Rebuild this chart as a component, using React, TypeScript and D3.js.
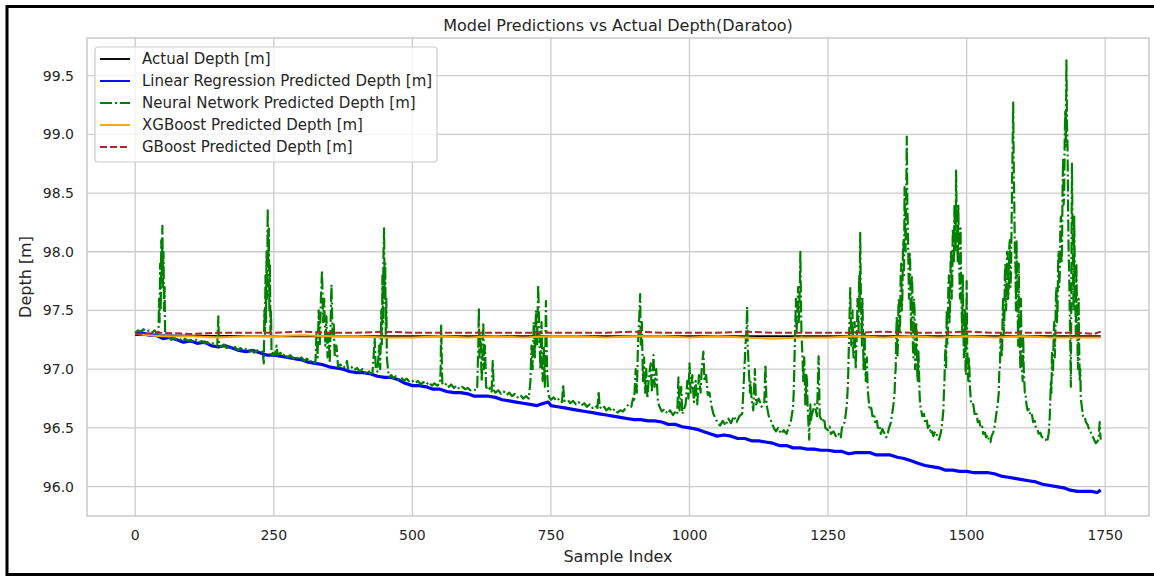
import React from "react";
import * as d3 from "d3";

const W = 1154;
const H = 577;

const chartTitle = "Model Predictions vs Actual Depth(Daratoo)";
const xLabel = "Sample Index";
const yLabel = "Depth [m]";
const xTicks = [0, 250, 500, 750, 1000, 1250, 1500, 1750];
const yTicks = [96.0, 96.5, 97.0, 97.5, 98.0, 98.5, 99.0, 99.5];
const seriesNames = [
  "Actual Depth [m]",
  "Linear Regression Predicted Depth [m]",
  "Neural Network Predicted Depth [m]",
  "XGBoost Predicted Depth [m]",
  "GBoost Predicted Depth [m]",
];

const actualPoints: [number, number][] = [
  [0, 97.29], [250, 97.28], [500, 97.28], [750, 97.28], [1000, 97.28], [1250, 97.28], [1500, 97.28], [1742, 97.28],
];

const lrPoints: [number, number][] = [
  [0, 97.3], [12, 97.31], [25, 97.29], [37, 97.29], [50, 97.26], [62, 97.27], [75, 97.25], [87, 97.23], [100, 97.24],
  [112, 97.22], [125, 97.23], [137, 97.2], [150, 97.19], [162, 97.2], [175, 97.18], [187, 97.16], [200, 97.15],
  [212, 97.16], [225, 97.14], [237, 97.12], [250, 97.12], [262, 97.11], [275, 97.1], [287, 97.09], [300, 97.08],
  [312, 97.06], [325, 97.05], [337, 97.04], [350, 97.02], [362, 97.01], [375, 97.0], [387, 96.98], [400, 96.97],
  [412, 96.97], [425, 96.96], [437, 96.94], [450, 96.93], [462, 96.93], [475, 96.91], [487, 96.88], [500, 96.86],
  [512, 96.86], [525, 96.85], [537, 96.83], [550, 96.83], [562, 96.81], [575, 96.8], [587, 96.8], [600, 96.79],
  [612, 96.77], [625, 96.77], [637, 96.77], [650, 96.76], [662, 96.74], [675, 96.73], [687, 96.72], [700, 96.71],
  [712, 96.7], [725, 96.69], [737, 96.71], [745, 96.72], [750, 96.69], [762, 96.68], [775, 96.67], [787, 96.66],
  [800, 96.65], [812, 96.64], [825, 96.63], [837, 96.62], [850, 96.61], [862, 96.6], [875, 96.59], [887, 96.58],
  [900, 96.57], [912, 96.57], [925, 96.56], [937, 96.56], [950, 96.55], [962, 96.53], [975, 96.53], [987, 96.51],
  [1000, 96.5], [1012, 96.49], [1025, 96.47], [1037, 96.45], [1050, 96.43], [1062, 96.44], [1075, 96.43], [1087, 96.41],
  [1100, 96.41], [1112, 96.39], [1125, 96.39], [1137, 96.38], [1150, 96.37], [1162, 96.35], [1175, 96.35], [1187, 96.33],
  [1200, 96.33], [1212, 96.32], [1225, 96.32], [1237, 96.31], [1250, 96.31], [1262, 96.3], [1275, 96.3], [1287, 96.28],
  [1300, 96.29], [1312, 96.29], [1325, 96.29], [1337, 96.27], [1350, 96.27], [1362, 96.27], [1375, 96.25], [1387, 96.24],
  [1400, 96.22], [1412, 96.2], [1425, 96.18], [1437, 96.17], [1450, 96.16], [1462, 96.14], [1475, 96.14], [1487, 96.13],
  [1500, 96.13], [1512, 96.12], [1525, 96.12], [1537, 96.12], [1550, 96.11], [1562, 96.09], [1575, 96.08], [1587, 96.07],
  [1600, 96.06], [1612, 96.05], [1625, 96.04], [1637, 96.02], [1650, 96.01], [1662, 96.0], [1675, 95.99], [1687, 95.97],
  [1700, 95.96], [1712, 95.96], [1725, 95.96], [1735, 95.95], [1742, 95.97],
];

const nnPoints: [number, number][] = [
  [0, 97.31], [5, 97.33], [10, 97.32], [15, 97.34], [20, 97.32], [25, 97.33], [30, 97.31], [35, 97.33], [40, 97.3],
  [42, 97.32], [43, 97.6], [44, 97.4], [45, 97.9], [46, 97.5], [47, 98.1], [48, 97.8], [49, 98.22], [50, 97.7],
  [51, 98.0], [52, 97.5], [53, 97.7], [54, 97.3], [56, 97.27], [60, 97.28], [65, 97.25], [70, 97.27], [75, 97.25],
  [80, 97.26], [85, 97.24], [90, 97.26], [95, 97.24], [100, 97.25], [105, 97.23], [110, 97.25], [115, 97.23],
  [120, 97.24], [125, 97.22], [130, 97.23], [135, 97.21], [140, 97.22], [145, 97.21], [148, 97.2], [150, 97.45],
  [151, 97.21], [155, 97.19], [160, 97.21], [165, 97.18], [170, 97.2], [175, 97.17], [180, 97.19], [185, 97.16],
  [190, 97.18], [195, 97.16], [200, 97.17], [205, 97.15], [210, 97.16], [215, 97.14], [220, 97.16], [225, 97.14],
  [230, 97.15], [232, 97.05], [233, 97.5], [234, 97.3], [235, 97.8], [236, 97.4], [237, 98.0], [238, 97.6],
  [239, 98.37], [240, 97.9], [241, 98.2], [242, 97.5], [243, 97.9], [244, 97.3], [245, 97.5], [246, 97.1],
  [248, 97.14], [252, 97.12], [255, 97.2], [257, 97.12], [262, 97.14], [265, 97.11], [270, 97.13], [275, 97.1],
  [280, 97.12], [285, 97.09], [290, 97.11], [295, 97.08], [300, 97.1], [305, 97.07], [310, 97.09], [315, 97.06],
  [320, 97.08], [325, 97.05], [327, 97.3], [329, 97.1], [331, 97.5], [333, 97.2], [335, 97.6], [337, 97.84],
  [339, 97.4], [341, 97.6], [343, 97.2], [345, 97.45], [347, 97.1], [349, 97.3], [351, 97.05], [353, 97.5],
  [354, 97.72], [356, 97.3], [358, 97.4], [360, 97.1], [363, 97.2], [366, 97.02], [370, 97.04], [375, 97.01],
  [380, 97.03], [382, 97.07], [384, 97.0], [390, 97.02], [395, 96.99], [400, 97.01], [405, 96.98], [410, 97.0],
  [415, 96.97], [420, 96.99], [425, 96.96], [428, 96.97], [430, 97.1], [432, 97.27], [434, 97.0], [437, 96.98],
  [440, 97.2], [442, 97.0], [444, 97.5], [445, 97.2], [446, 97.8], [447, 97.4], [448, 98.0], [449, 98.2],
  [450, 97.6], [451, 97.9], [452, 97.3], [453, 97.6], [454, 97.1], [456, 97.0], [458, 96.93], [462, 96.95],
  [466, 96.92], [470, 96.94], [475, 96.91], [480, 96.93], [485, 96.9], [490, 96.92], [495, 96.89], [500, 96.9],
  [505, 96.88], [510, 96.9], [515, 96.87], [520, 96.89], [525, 96.87], [530, 96.89], [535, 96.86], [540, 96.88],
  [545, 96.86], [550, 96.88], [551, 97.0], [552, 97.38], [553, 97.1], [554, 96.88], [558, 96.86], [562, 96.88],
  [566, 96.85], [570, 96.87], [575, 96.84], [580, 96.86], [585, 96.83], [590, 96.85], [595, 96.83], [600, 96.84],
  [605, 96.82], [610, 96.83], [615, 96.82], [617, 96.85], [619, 97.2], [620, 97.52], [621, 97.1], [623, 97.3],
  [625, 96.9], [627, 97.2], [628, 97.4], [629, 97.0], [631, 97.2], [633, 96.85], [637, 96.82], [640, 96.84],
  [643, 96.81], [645, 97.07], [647, 96.82], [650, 96.8], [655, 96.82], [660, 96.79], [665, 96.81], [670, 96.78],
  [675, 96.8], [680, 96.77], [685, 96.79], [690, 96.76], [695, 96.78], [700, 96.75], [705, 96.77], [710, 96.75],
  [713, 96.9], [715, 97.2], [717, 97.0], [719, 97.4], [721, 97.1], [723, 97.5], [725, 97.2], [727, 97.72],
  [729, 97.3], [731, 97.0], [733, 97.4], [735, 96.9], [737, 97.2], [739, 96.85], [741, 97.58], [743, 97.0],
  [745, 96.8], [747, 96.76], [750, 96.74], [755, 96.76], [760, 96.73], [765, 96.75], [770, 96.72], [772, 96.87],
  [774, 96.73], [780, 96.74], [785, 96.71], [790, 96.73], [795, 96.7], [800, 96.72], [805, 96.69], [810, 96.71],
  [815, 96.68], [820, 96.7], [825, 96.67], [830, 96.69], [834, 96.67], [836, 96.81], [838, 96.68], [842, 96.66],
  [846, 96.68], [850, 96.65], [855, 96.67], [860, 96.64], [865, 96.66], [870, 96.63], [875, 96.65], [880, 96.64],
  [885, 96.67], [890, 96.7], [895, 96.68], [898, 96.75], [900, 96.72], [903, 97.0], [905, 96.8], [907, 97.2],
  [909, 97.4], [911, 97.64], [912, 97.2], [914, 97.4], [916, 96.9], [918, 97.1], [920, 96.8], [922, 97.0],
  [924, 96.75], [927, 96.95], [930, 97.05], [932, 96.8], [935, 97.12], [937, 96.85], [940, 97.0], [943, 96.72],
  [946, 96.68], [950, 96.64], [955, 96.66], [960, 96.62], [965, 96.65], [970, 96.61], [975, 96.64], [978, 96.62],
  [980, 96.93], [982, 96.65], [985, 96.85], [987, 96.62], [990, 96.66], [993, 96.7], [996, 96.9], [998, 96.75],
  [1000, 97.05], [1002, 96.8], [1005, 96.95], [1008, 96.72], [1011, 96.9], [1014, 96.7], [1017, 96.95], [1020, 96.8],
  [1022, 97.0], [1025, 97.15], [1027, 96.9], [1030, 96.95], [1033, 96.78], [1036, 96.8], [1040, 96.68], [1043, 96.62],
  [1047, 96.58], [1050, 96.55], [1055, 96.52], [1060, 96.56], [1065, 96.52], [1070, 96.58], [1075, 96.54], [1080, 96.6],
  [1085, 96.55], [1090, 96.6], [1095, 96.62], [1097, 96.8], [1099, 97.0], [1101, 97.2], [1103, 97.35], [1104, 97.53],
  [1105, 97.2], [1107, 97.0], [1109, 96.8], [1110, 96.9], [1112, 96.75], [1115, 96.65], [1118, 97.0], [1120, 96.7],
  [1125, 96.75], [1130, 96.68], [1135, 96.72], [1137, 97.04], [1139, 96.7], [1143, 96.6], [1148, 96.55], [1152, 96.5],
  [1156, 96.47], [1160, 96.5], [1165, 96.45], [1170, 96.48], [1175, 96.45], [1180, 96.52], [1183, 96.56],
  [1186, 96.65], [1187, 96.7], [1188, 96.8], [1189, 97.0], [1190, 97.2], [1191, 97.4], [1192, 97.6], [1193, 97.3],
  [1194, 97.4], [1195, 97.55], [1196, 97.7], [1197, 97.4], [1198, 97.5], [1199, 97.7], [1200, 98.0], [1201, 97.6],
  [1202, 97.3], [1203, 97.2], [1204, 97.1], [1205, 96.9], [1206, 97.0], [1207, 97.1], [1208, 96.9], [1209, 96.7],
  [1210, 96.75], [1211, 96.95], [1212, 96.9], [1213, 96.7], [1214, 96.6], [1215, 96.5], [1216, 96.4], [1217, 96.6],
  [1218, 96.7], [1219, 96.55], [1220, 96.6],
  [1223, 96.65], [1226, 96.7], [1230, 96.6], [1233, 97.11], [1235, 96.6], [1240, 96.55], [1243, 96.58], [1245, 96.5],
  [1250, 96.48], [1253, 96.51], [1255, 96.45], [1260, 96.47], [1263, 96.44], [1265, 96.42], [1270, 96.45],
  [1273, 96.42], [1275, 96.5], [1280, 96.55],
  [1284, 96.7], [1285, 96.8], [1286, 96.9], [1287, 97.1], [1288, 97.3], [1289, 97.5], [1290, 97.69], [1291, 97.4],
  [1292, 97.2], [1293, 97.35], [1294, 97.5], [1295, 97.2], [1296, 97.1], [1297, 97.3], [1298, 97.4], [1299, 97.15],
  [1300, 97.0], [1301, 97.2], [1302, 97.3], [1303, 97.6], [1304, 97.5], [1305, 97.3], [1306, 97.8], [1307, 97.5],
  [1308, 98.16], [1309, 97.7], [1310, 97.4], [1311, 97.2], [1312, 97.6], [1313, 97.3], [1314, 97.0], [1315, 97.2],
  [1316, 97.3], [1317, 97.0], [1318, 96.9], [1319, 97.05], [1320, 97.1], [1321, 96.9], [1322, 96.8],
  [1325, 96.65], [1328, 96.67], [1330, 96.6], [1333, 96.62], [1335, 96.55], [1338, 96.56], [1340, 96.5],
  [1343, 96.52], [1345, 96.45], [1348, 96.49], [1350, 96.47], [1353, 96.44], [1355, 96.42], [1358, 96.46],
  [1360, 96.5], [1363, 96.54], [1365, 96.6], [1368, 96.7],
  [1370, 96.8], [1371, 96.95], [1372, 97.0], [1373, 97.3], [1374, 97.45], [1375, 97.1], [1376, 97.2], [1377, 97.55],
  [1378, 97.6], [1379, 97.3], [1380, 97.4], [1381, 97.8], [1382, 97.9], [1383, 97.5], [1384, 97.6], [1385, 98.0],
  [1386, 98.1], [1387, 97.8], [1388, 98.55], [1389, 98.2], [1390, 98.0], [1391, 98.5], [1392, 98.98], [1393, 98.4],
  [1394, 98.2], [1395, 97.9], [1396, 97.6], [1397, 98.0], [1398, 97.95], [1399, 97.5], [1400, 97.3], [1401, 97.8],
  [1402, 97.7], [1403, 97.2], [1404, 97.1], [1405, 97.6], [1406, 97.5], [1407, 97.0], [1408, 97.0], [1409, 97.4],
  [1410, 97.3], [1411, 96.95], [1412, 96.9], [1413, 97.15], [1414, 97.0], [1415, 96.8], [1416, 96.7],
  [1420, 96.6], [1423, 96.62], [1425, 96.55], [1428, 96.57], [1430, 96.5], [1433, 96.52], [1435, 96.45],
  [1438, 96.47], [1440, 96.43], [1443, 96.47], [1445, 96.45], [1448, 96.42], [1450, 96.4], [1453, 96.45],
  [1455, 96.5], [1458, 96.65], [1459, 96.8], [1460, 96.9], [1461, 97.1], [1462, 97.2], [1463, 97.0], [1464, 97.5],
  [1465, 97.2], [1466, 97.3], [1467, 97.7], [1468, 97.8], [1469, 97.4], [1470, 97.5], [1471, 97.9], [1472, 98.0],
  [1473, 97.6], [1474, 97.7], [1475, 98.2], [1476, 98.1], [1477, 97.9], [1478, 98.4], [1479, 98.1], [1480, 98.0],
  [1481, 98.69], [1482, 98.3], [1483, 98.1], [1484, 97.9], [1485, 98.4], [1486, 98.0], [1487, 97.8], [1488, 97.6],
  [1489, 98.2], [1490, 97.7], [1491, 97.5], [1492, 97.3], [1493, 97.8], [1494, 97.4], [1495, 97.1], [1496, 97.3],
  [1497, 97.5], [1498, 97.0], [1499, 96.95], [1500, 97.75], [1501, 97.2], [1502, 97.0], [1503, 96.9], [1504, 97.1],
  [1505, 97.0], [1506, 96.85], [1508, 96.7],
  [1512, 96.7], [1515, 96.6], [1518, 96.62], [1520, 96.55], [1523, 96.56], [1525, 96.5], [1528, 96.51],
  [1530, 96.45], [1533, 96.46], [1535, 96.42], [1538, 96.44], [1540, 96.4], [1543, 96.38], [1545, 96.43],
  [1548, 96.46], [1550, 96.5], [1553, 96.6],
  [1556, 96.7], [1557, 96.75], [1558, 96.8], [1559, 97.0], [1560, 97.0], [1561, 97.25], [1562, 97.3], [1563, 97.1],
  [1564, 97.15], [1565, 97.5], [1566, 97.6], [1567, 97.3], [1568, 97.4], [1569, 97.8], [1570, 97.9], [1571, 97.5],
  [1572, 97.6], [1573, 98.0], [1574, 98.0], [1575, 97.6], [1576, 97.7], [1577, 98.05], [1578, 98.1], [1579, 97.7],
  [1580, 97.8], [1581, 98.2], [1582, 98.6], [1583, 98.9], [1584, 99.27], [1585, 98.7], [1586, 98.4], [1587, 98.0],
  [1588, 97.9], [1589, 97.5], [1590, 98.1], [1591, 97.7], [1592, 97.5], [1593, 97.2], [1594, 97.9], [1595, 97.4],
  [1596, 97.2], [1597, 97.0], [1598, 97.6], [1599, 97.1], [1600, 97.0], [1601, 96.9], [1602, 97.3], [1603, 97.0],
  [1604, 96.9], [1605, 96.8], [1606, 96.8], [1608, 96.7],
  [1610, 96.65], [1613, 96.66], [1615, 96.6], [1618, 96.61], [1620, 96.55], [1623, 96.56], [1625, 96.5],
  [1628, 96.48], [1630, 96.45], [1633, 96.46], [1635, 96.43], [1638, 96.41], [1640, 96.4], [1643, 96.4],
  [1645, 96.38], [1648, 96.45],
  [1650, 96.6], [1651, 96.75], [1652, 96.9], [1653, 96.8], [1654, 97.15], [1655, 96.95], [1656, 97.0], [1657, 97.3],
  [1658, 97.4], [1659, 97.1], [1660, 97.3], [1661, 97.6], [1662, 97.7], [1663, 97.4], [1664, 97.5], [1665, 97.9],
  [1666, 98.0], [1667, 97.7], [1668, 97.8], [1669, 98.2], [1670, 98.3], [1671, 97.9], [1672, 98.0], [1673, 98.5],
  [1674, 98.8], [1675, 98.4], [1676, 98.5], [1677, 99.0], [1678, 99.2], [1679, 98.9], [1680, 99.63], [1681, 99.1],
  [1682, 98.9], [1683, 98.4], [1684, 98.0], [1685, 97.8], [1686, 97.5], [1687, 97.2], [1688, 96.85], [1689, 97.8],
  [1690, 98.75], [1691, 98.2], [1692, 97.8], [1693, 97.5], [1694, 98.3], [1695, 97.9], [1696, 97.6], [1697, 97.3],
  [1698, 97.9], [1699, 97.5], [1700, 97.2], [1701, 97.0], [1702, 97.6], [1703, 97.2], [1704, 96.9], [1705, 97.0],
  [1706, 96.75],
  [1710, 96.6], [1713, 96.6], [1715, 96.55], [1718, 96.53], [1720, 96.5], [1723, 96.48], [1725, 96.45],
  [1728, 96.42], [1730, 96.4], [1733, 96.37], [1735, 96.38], [1738, 96.4], [1740, 96.55], [1741, 96.45],
  [1742, 96.4],
];

const xgbPoints: [number, number][] = [
  [0, 97.3], [25, 97.29], [50, 97.28], [100, 97.28], [150, 97.27], [200, 97.28], [250, 97.28], [300, 97.29],
  [350, 97.28], [400, 97.28], [450, 97.27], [500, 97.27], [550, 97.28], [600, 97.27], [650, 97.28], [700, 97.27],
  [750, 97.28], [800, 97.28], [850, 97.27], [900, 97.28], [950, 97.28], [1000, 97.27], [1050, 97.28], [1100, 97.27],
  [1150, 97.26], [1200, 97.27], [1250, 97.27], [1300, 97.28], [1350, 97.27], [1400, 97.28], [1450, 97.27], [1500, 97.28],
  [1550, 97.27], [1600, 97.28], [1650, 97.27], [1700, 97.27], [1742, 97.27],
];

const gbPoints: [number, number][] = [
  [0, 97.3], [50, 97.31], [100, 97.3], [150, 97.31], [200, 97.31], [250, 97.31], [300, 97.32], [350, 97.31],
  [400, 97.31], [450, 97.32], [500, 97.31], [550, 97.31], [600, 97.31], [650, 97.31], [700, 97.31], [750, 97.31],
  [800, 97.31], [850, 97.31], [900, 97.32], [950, 97.31], [1000, 97.31], [1050, 97.31], [1100, 97.32], [1150, 97.31],
  [1200, 97.31], [1250, 97.31], [1300, 97.31], [1350, 97.32], [1400, 97.31], [1450, 97.31], [1500, 97.32], [1550, 97.31],
  [1600, 97.31], [1650, 97.31], [1700, 97.31], [1730, 97.3], [1742, 97.32],
];

const FONT = "'DejaVu Sans', sans-serif";
const TEXT = "#262626";
const GRID = "#cccccc";

const plot = { left: 87, right: 1149, top: 38, bottom: 516 };

const styles = [
  { color: "#000000", dash: undefined as string | undefined, width: 1.9 },
  { color: "#0000ff", dash: undefined, width: 3.2 },
  { color: "#008000", dash: "12,3,2,3", width: 2.2 },
  { color: "#ffa500", dash: undefined, width: 2.0 },
  { color: "#a52a2a", dash: "7,3", width: 2.0 },
];

export default function App() {
  const x = d3.scaleLinear().domain([-87, 1829]).range([plot.left, plot.right]);
  const y = d3.scaleLinear().domain([95.75, 99.82]).range([plot.bottom, plot.top]);
  const line = d3
    .line<[number, number]>()
    .x((d) => x(d[0]))
    .y((d) => y(d[1]));

  const series = [actualPoints, lrPoints, nnPoints, xgbPoints, gbPoints];

  const legendX = 95;
  const legendY = 47;
  const legendW = 342;
  const legendH = 115;

  return (
    <svg
      width={W}
      height={H}
      style={{ position: "absolute", left: 0, top: 0, background: "#fff" }}
      fontFamily={FONT}
    >
      <defs>
        <clipPath id="clip">
          <rect x={plot.left} y={plot.top} width={plot.right - plot.left} height={plot.bottom - plot.top} />
        </clipPath>
      </defs>
      <rect x={0} y={0} width={W} height={H} fill="#fff" />
      {xTicks.map((t) => (
        <line key={"gx" + t} x1={x(t)} x2={x(t)} y1={plot.top} y2={plot.bottom} stroke={GRID} strokeWidth={1.3} />
      ))}
      {yTicks.map((t) => (
        <line key={"gy" + t} x1={plot.left} x2={plot.right} y1={y(t)} y2={y(t)} stroke={GRID} strokeWidth={1.3} />
      ))}
      <g clipPath="url(#clip)">
        {series.map((pts, i) => (
          <path
            key={"s" + i}
            d={line(pts) || ""}
            fill="none"
            stroke={styles[i].color}
            strokeWidth={styles[i].width}
            strokeDasharray={styles[i].dash}
            strokeLinejoin="round"
          />
        ))}
      </g>
      <rect
        x={plot.left}
        y={plot.top}
        width={plot.right - plot.left}
        height={plot.bottom - plot.top}
        fill="none"
        stroke={GRID}
        strokeWidth={1.6}
      />
      {xTicks.map((t) => (
        <text key={"tx" + t} x={x(t)} y={540} textAnchor="middle" fontSize={14} fill={TEXT}>
          {String(t)}
        </text>
      ))}
      {yTicks.map((t) => (
        <text key={"ty" + t} x={74} y={y(t) + 5} textAnchor="end" fontSize={14} fill={TEXT}>
          {t.toFixed(1)}
        </text>
      ))}
      <text x={(plot.left + plot.right) / 2} y={562} textAnchor="middle" fontSize={16} fill={TEXT}>
        {xLabel}
      </text>
      <text
        transform={`translate(31, ${(plot.top + plot.bottom) / 2}) rotate(-90)`}
        textAnchor="middle"
        fontSize={16}
        fill={TEXT}
      >
        {yLabel}
      </text>
      <text x={(plot.left + plot.right) / 2} y={31} textAnchor="middle" fontSize={16} fill={TEXT}>
        {chartTitle}
      </text>
      <rect
        x={legendX}
        y={legendY}
        width={legendW}
        height={legendH}
        rx={3}
        fill="#ffffff"
        fillOpacity={0.8}
        stroke={GRID}
        strokeWidth={1.2}
      />
      {seriesNames.map((name, i) => {
        const cy = 59 + i * 22;
        return (
          <g key={"lg" + i}>
            <line
              x1={100}
              x2={130}
              y1={cy}
              y2={cy}
              stroke={styles[i].color}
              strokeWidth={1.9}
              strokeDasharray={styles[i].dash}
            />
            <text x={142} y={cy + 5} fontSize={15} fill={TEXT}>
              {name}
            </text>
          </g>
        );
      })}
      <rect x={7} y={6.5} width={W + 10} height={568} fill="none" stroke="#000" strokeWidth={3} />
    </svg>
  );
}
